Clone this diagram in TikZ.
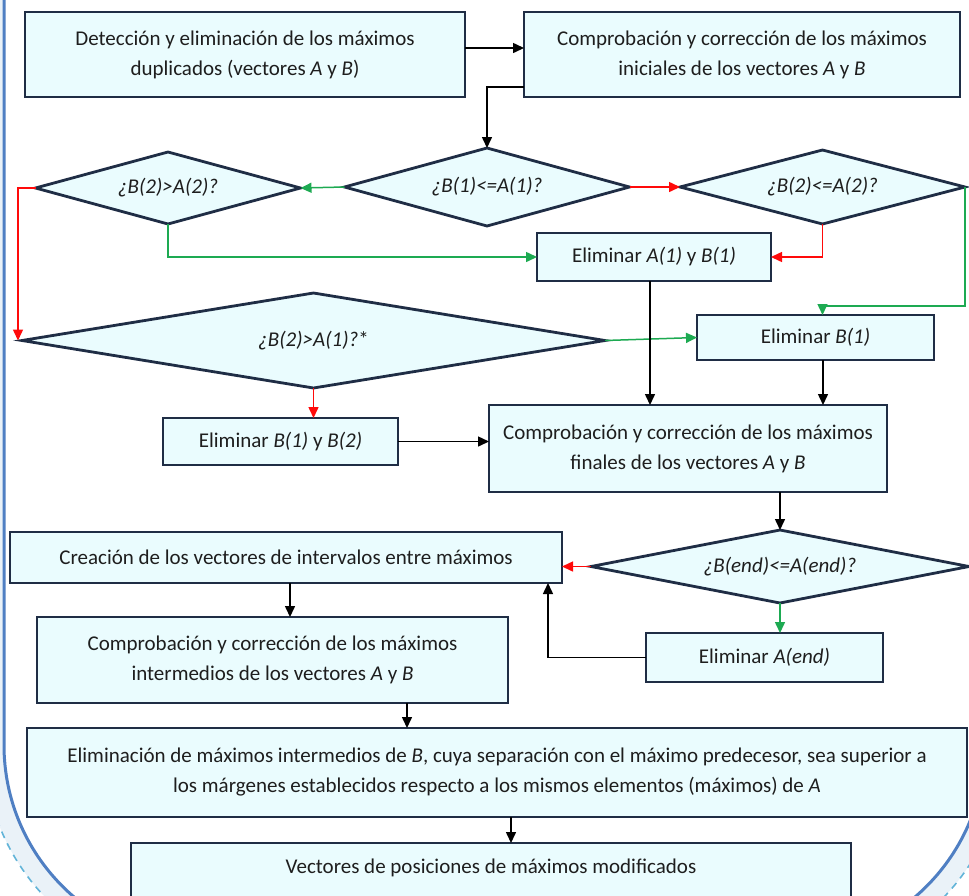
\documentclass[tikz,border=0pt]{standalone}
\usepackage{fontspec}
\setmainfont{Carlito}
\usetikzlibrary{arrows.meta,shapes.geometric,calc}
\definecolor{boxc}{HTML}{EAFCFE}
\definecolor{bordc}{HTML}{1F2D45}
\definecolor{txtc}{HTML}{1E1E1E}
\definecolor{gr}{HTML}{1DAA52}
\definecolor{rd}{HTML}{FF0A0A}
\definecolor{outl}{HTML}{4F7FC3}
\definecolor{dashc}{HTML}{62B4D8}
\definecolor{band}{HTML}{EAF2F8}
\tikzset{
  box/.style={draw=bordc, line width=2.8pt, fill=boxc, align=center, text=txtc, inner sep=0pt, outer sep=0pt},
  dia/.style={diamond, draw=bordc, line width=2.8pt, fill=boxc, text=txtc, inner sep=0pt, outer sep=0pt, font=\fontsize{21}{30}\selectfont\itshape},
  conn/.style={line width=1.5pt, -{Triangle[length=11pt,width=10pt]}},
  gconn/.style={conn, draw=gr, color=gr},
  rconn/.style={conn, draw=rd, color=rd},
  kconn/.style={conn, draw=black, color=black},
}
\begin{document}
\begin{tikzpicture}[x=1pt,y=-1pt, font=\fontsize{21}{30}\selectfont]
\useasboundingbox (0,0) rectangle (969,895);
\begin{scope}
\clip (0,0) rectangle (969,895);
\fill[band, rounded corners=220pt] (-16,-400) rectangle (1005,965);
\fill[white, rounded corners=200pt] (4,-400) rectangle (985,945);
\draw[dashc, line width=1.6pt, dash pattern=on 7pt off 6pt, rounded corners=220pt] (-16,-400) rectangle (1005,965);
\draw[outl, line width=3pt, rounded corners=200pt] (4,-400) rectangle (985,945);
\end{scope}

% boxes
\node[box, minimum width=440pt, minimum height=85pt] (B1) at (245,54.5)
  {Detección y eliminación de los máximos\\duplicados (vectores \textit{A} y \textit{B})};
\node[box, minimum width=436pt, minimum height=85pt] (B2) at (742,54.5)
  {Comprobación y corrección de los máximos\\iniciales de los vectores \textit{A} y \textit{B}};
\node[box, minimum width=234pt, minimum height=48pt] (EA1B1) at (654,257)
  {Eliminar \textit{A(1)} y \textit{B(1)}};
\node[box, minimum width=237pt, minimum height=45pt] (EB1) at (815.5,337.5)
  {Eliminar \textit{B(1)}};
\node[box, minimum width=235pt, minimum height=47pt] (EB1B2) at (280.5,441.5)
  {Eliminar \textit{B(1)} y \textit{B(2)}};
\node[box, minimum width=398pt, minimum height=87pt] (FIN) at (688,448.5)
  {Comprobación y corrección de los máximos\\finales de los vectores \textit{A} y \textit{B}};
\node[box, minimum width=552pt, minimum height=51pt] (CRE) at (286,557.5)
  {Creación de los vectores de intervalos entre máximos};
\node[box, minimum width=237pt, minimum height=49pt] (EAE) at (764.5,657.5)
  {Eliminar \textit{A(end)}};
\node[box, minimum width=471pt, minimum height=86pt] (INT) at (272.5,660)
  {Comprobación y corrección de los máximos\\intermedios de los vectores \textit{A} y \textit{B}};
\node[box, minimum width=940pt, minimum height=89pt] (ELI) at (497,772.5)
  {Eliminación de máximos intermedios de \textit{B}, cuya separación con el máximo predecesor, sea superior a\\los márgenes establecidos respecto a los mismos elementos (máximos) de \textit{A}};
\node[box, minimum width=720pt, minimum height=70pt, text height=15pt, text depth=24.5pt] (VEC) at (491,878)
  {Vectores de posiciones de máximos modificados};

% diamonds
\node[dia, minimum width=285pt, minimum height=78pt, aspect=3.654] (D1) at (487,187) {¿B(1)<=A(1)?};
\node[dia, minimum width=265pt, minimum height=72pt, aspect=3.681] (D2) at (168,188) {¿B(2)>A(2)?};
\node[dia, minimum width=285pt, minimum height=74pt, aspect=3.851] (D3) at (822.5,187) {¿B(2)<=A(2)?};
\node[dia, minimum width=583pt, minimum height=95pt, aspect=6.137] (D4) at (313.5,340.5) {¿B(2)>A(1)?\upshape*};
\node[dia, minimum width=378pt, minimum height=73pt, aspect=5.178] (D5) at (780,566.5) {¿B(end)<=A(end)?};

% connectors
\draw[kconn] ([yshift=6.5pt]B1.east) -- ([yshift=6.5pt]B1.east -| B2.west);
\draw[kconn] ([yshift=-32.5pt]B2.west) -| (D1.north);
\draw[gconn] (D1.west) -- (D2.east);
\draw[rconn] (D1.east) -- (D3.west);
\draw[rconn] (D2.west) -| ([xshift=-4pt]D4.west);
\draw[gconn] (D2.south) |- (EA1B1.west);
\draw[rconn] (D3.south) |- (EA1B1.east);
\draw[gconn] (D3.east) |- ([yshift=-25pt]EA1B1.south -| D3.south) -- (EB1.north -| D3.south);
\draw[gconn] (D4.east) -- (EB1.west);
\draw[rconn] (D4.south) -- (D4.south |- EB1B2.north);
\draw[kconn] ([xshift=-4pt]EA1B1.south) -- ([xshift=-4pt]EA1B1.south |- FIN.north);
\draw[kconn] ([xshift=7.5pt]EB1.south) -- ([xshift=7.5pt]EB1.south |- FIN.north);
\draw[kconn] (EB1B2.east) -- (EB1B2.east -| FIN.west);
\draw[kconn] (FIN.south -| D5.north) -- (D5.north);
\draw[rconn] (D5.west) -- (D5.west -| CRE.east);
\draw[gconn] (D5.south) -- (D5.south |- EAE.north);
\draw[kconn] (EAE.west) -| ([xshift=-14pt]CRE.south east);
\draw[kconn] ([xshift=4pt]CRE.south) -- ([xshift=4pt]CRE.south |- INT.north);
\draw[kconn] ([xshift=134.5pt]INT.south) -- ([xshift=134.5pt]INT.south |- ELI.north);
\draw[kconn] ([xshift=14pt]ELI.south) -- ([xshift=14pt]ELI.south |- VEC.north);
\end{tikzpicture}
\end{document}
